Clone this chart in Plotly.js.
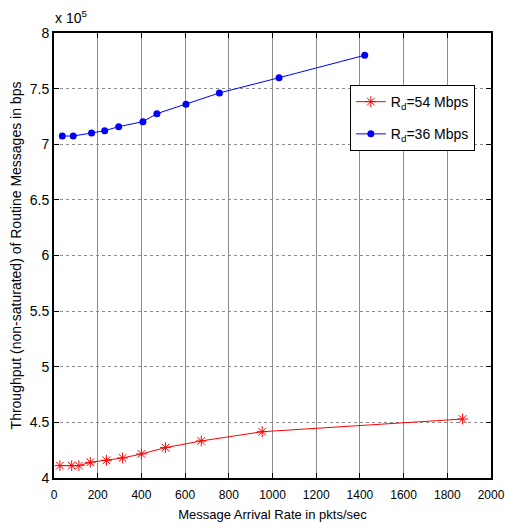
<!DOCTYPE html>
<html>
<head>
<meta charset="utf-8">
<script src="https://cdn.plot.ly/plotly-3.0.1.min.js"></script>
<style>
  html, body { margin: 0; padding: 0; background: #fff; }
  #chart { width: 505px; height: 526px; }
</style>
</head>
<body>
<div id="chart"></div>
<script>
// Message arrival rate (pkts/sec) and throughput (in units of 10^5 bps)
const rate54 = [27, 81, 114, 166, 240, 314, 400, 510, 674, 953, 1870];
const thr54 = [4.111, 4.111, 4.111, 4.141, 4.159, 4.180, 4.216, 4.273, 4.333, 4.416, 4.530];

const rate36 = [38, 88, 172, 232, 296, 407, 471, 604, 757, 1030, 1422];
const thr36 = [7.074, 7.074, 7.101, 7.122, 7.158, 7.203, 7.275, 7.359, 7.461, 7.598, 7.800];

const seriesNames = ['R<sub>d</sub>=54 Mbps', 'R<sub>d</sub>=36 Mbps'];
const xTicks = [0, 200, 400, 600, 800, 1000, 1200, 1400, 1600, 1800, 2000];
const yTicks = [4, 4.5, 5, 5.5, 6, 6.5, 7, 7.5, 8];

const FONT = 'Liberation Sans, Arial, sans-serif';

const traces = [
  {
    x: rate54, y: thr54, name: seriesNames[0], legendgroup: 'a',
    type: 'scatter', mode: 'lines+markers',
    line: { color: '#ff0000', width: 1 },
    marker: { symbol: 'asterisk-open', size: 9, color: '#ff0000', line: { color: '#ff0000', width: 1 } }
  },
  {
    x: rate36, y: thr36, name: seriesNames[1], legendgroup: 'b',
    type: 'scatter', mode: 'lines+markers',
    line: { color: '#0000ff', width: 1 },
    marker: { symbol: 'circle', size: 7, color: '#0000ff' }
  }
];

const axisCommon = {
  showline: true, linecolor: '#000', linewidth: 2, mirror: 'ticks',
  ticks: 'inside', ticklen: 5, tickcolor: '#000', tickwidth: 1,
  showgrid: true, gridcolor: '#8c8c8c', gridwidth: 1,
  zeroline: false, automargin: false,
  ticklabeloverflow: 'allow'
};

const layout = {
  width: 505, height: 526,
  margin: { l: 54, r: 14, t: 33, b: 48 },
  paper_bgcolor: '#fff', plot_bgcolor: '#fff',
  showlegend: true,
  legend: {
    x: 0.677, y: 0.883, xanchor: 'left', yanchor: 'top',
    bgcolor: '#fff', bordercolor: '#000', borderwidth: 1,
    font: { family: FONT, size: 14, color: '#000' },
    tracegroupgap: 11
  },
  xaxis: Object.assign({}, axisCommon, {
    range: [0, 2000], tickvals: xTicks, ticktext: xTicks.map(String),
    griddash: 'solid', ticklabelstandoff: 5,
    tickfont: { family: FONT, size: 12, color: '#000' },
    title: { text: 'Message Arrival Rate in pkts/sec', font: { family: FONT, size: 13, color: '#000' }, standoff: 8 }
  }),
  yaxis: Object.assign({}, axisCommon, {
    range: [4, 8], tickvals: yTicks, ticktext: yTicks.map(String),
    griddash: 'dot',
    tickfont: { family: FONT, size: 14, color: '#000' },
    title: { text: 'Throughput (non-saturated) of Routine Messages in bps', font: { family: FONT, size: 14, color: '#000' }, standoff: 5 }
  }),
  annotations: [{
    xref: 'paper', yref: 'paper', x: 0, y: 1, xanchor: 'left', yanchor: 'bottom',
    xshift: -1, yshift: 5, showarrow: false,
    text: 'x 10<sup>5</sup>', font: { family: FONT, size: 14, color: '#000' }
  }]
};

Plotly.newPlot('chart', traces, layout, { displayModeBar: false, staticPlot: true });
</script>
</body>
</html>
